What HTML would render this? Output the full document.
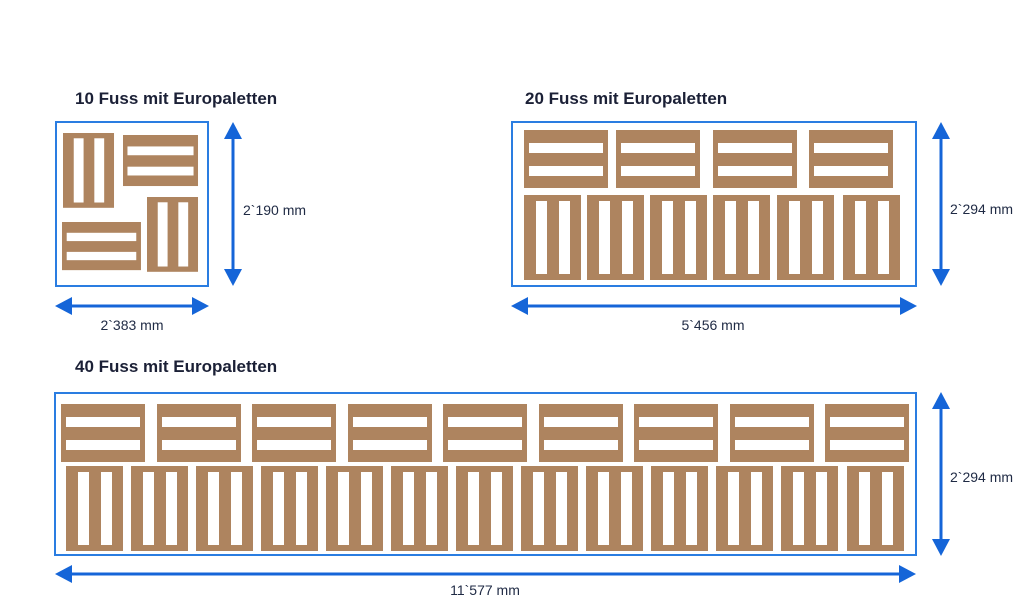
<!DOCTYPE html>
<html><head><meta charset="utf-8"><style>
html,body{margin:0;padding:0;background:#fff;}
svg{display:block;}
.t{font-family:"Liberation Sans",sans-serif;font-weight:bold;font-size:17px;fill:#1b2036;}
.l{font-family:"Liberation Sans",sans-serif;font-size:14px;fill:#1f2a44;}
</style></head><body>
<svg width="1024" height="614" viewBox="0 0 1024 614" xmlns="http://www.w3.org/2000/svg">
<defs>
<g id="hp"><rect x="0" y="0" width="84" height="58" fill="#ae845f"/><rect x="5" y="13" width="74" height="10" fill="#fff"/><rect x="5" y="36" width="74" height="10" fill="#fff"/></g>
<g id="vp"><rect x="0" y="0" width="57" height="85" fill="#ae845f"/><rect x="12" y="6" width="11" height="73" fill="#fff"/><rect x="35" y="6" width="11" height="73" fill="#fff"/></g>
<g id="ah"><polygon points="0,0 -9,17 9,17" fill="#1565d8"/></g>
</defs>

<text class="t" x="75" y="104">10 Fuss mit Europaletten</text>
<text class="t" x="525" y="104">20 Fuss mit Europaletten</text>
<text class="t" x="75" y="372">40 Fuss mit Europaletten</text>

<!-- 10 ft -->
<rect x="56" y="122" width="152" height="164" fill="none" stroke="#2a7de1" stroke-width="2"/>
<g transform="translate(63,133) scale(0.895,0.88)"><use href="#vp"/></g>
<g transform="translate(123,135) scale(0.893,0.88)"><use href="#hp"/></g>
<g transform="translate(147,197) scale(0.895,0.88)"><use href="#vp"/></g>
<g transform="translate(62,222) scale(0.94,0.83)"><use href="#hp"/></g>
<line x1="233" y1="136" x2="233" y2="272" stroke="#1565d8" stroke-width="3"/>
<use href="#ah" transform="translate(233,122)"/>
<use href="#ah" transform="translate(233,286) rotate(180)"/>
<line x1="70" y1="306" x2="194" y2="306" stroke="#1565d8" stroke-width="3"/>
<use href="#ah" transform="translate(55,306) rotate(-90)"/>
<use href="#ah" transform="translate(209,306) rotate(90)"/>
<text class="l" x="243" y="215">2`190 mm</text>
<text class="l" x="132" y="330" text-anchor="middle">2`383 mm</text>

<!-- 20 ft -->
<rect x="512" y="122" width="404" height="164" fill="none" stroke="#2a7de1" stroke-width="2"/>
<use href="#hp" x="524" y="130"/><use href="#hp" x="616" y="130"/><use href="#hp" x="713" y="130"/><use href="#hp" x="809" y="130"/>
<use href="#vp" x="524" y="195"/><use href="#vp" x="587" y="195"/><use href="#vp" x="650" y="195"/><use href="#vp" x="713" y="195"/><use href="#vp" x="777" y="195"/><use href="#vp" x="843" y="195"/>
<line x1="941" y1="136" x2="941" y2="272" stroke="#1565d8" stroke-width="3"/>
<use href="#ah" transform="translate(941,122)"/>
<use href="#ah" transform="translate(941,286) rotate(180)"/>
<line x1="526" y1="306" x2="902" y2="306" stroke="#1565d8" stroke-width="3"/>
<use href="#ah" transform="translate(511,306) rotate(-90)"/>
<use href="#ah" transform="translate(917,306) rotate(90)"/>
<text class="l" x="950" y="214">2`294 mm</text>
<text class="l" x="713" y="330" text-anchor="middle">5`456 mm</text>

<!-- 40 ft -->
<rect x="55" y="393" width="861" height="162" fill="none" stroke="#2a7de1" stroke-width="2"/>
<use href="#hp" x="61" y="404"/><use href="#hp" x="157" y="404"/><use href="#hp" x="252" y="404"/><use href="#hp" x="348" y="404"/><use href="#hp" x="443" y="404"/><use href="#hp" x="539" y="404"/><use href="#hp" x="634" y="404"/><use href="#hp" x="730" y="404"/><use href="#hp" x="825" y="404"/>
<g transform="translate(0,466)">
<use href="#vp" x="66"/><use href="#vp" x="131"/><use href="#vp" x="196"/><use href="#vp" x="261"/><use href="#vp" x="326"/><use href="#vp" x="391"/><use href="#vp" x="456"/><use href="#vp" x="521"/><use href="#vp" x="586"/><use href="#vp" x="651"/><use href="#vp" x="716"/><use href="#vp" x="781"/><use href="#vp" x="847"/>
</g>
<line x1="941" y1="407" x2="941" y2="541" stroke="#1565d8" stroke-width="3"/>
<use href="#ah" transform="translate(941,392)"/>
<use href="#ah" transform="translate(941,556) rotate(180)"/>
<line x1="70" y1="574" x2="901" y2="574" stroke="#1565d8" stroke-width="3"/>
<use href="#ah" transform="translate(55,574) rotate(-90)"/>
<use href="#ah" transform="translate(916,574) rotate(90)"/>
<text class="l" x="950" y="482">2`294 mm</text>
<text class="l" x="485" y="595" text-anchor="middle">11`577 mm</text>
</svg>
</body></html>
